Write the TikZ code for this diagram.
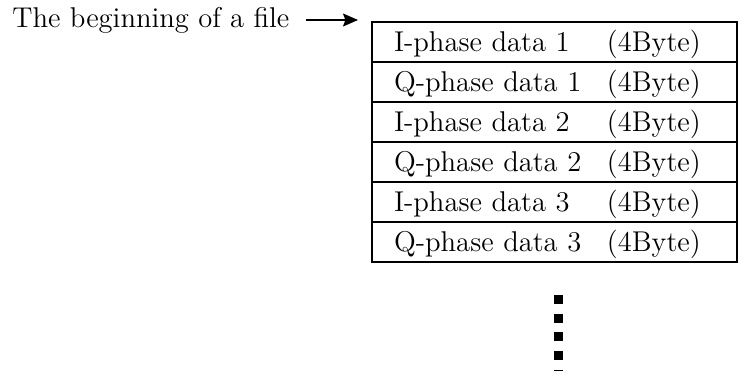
\documentclass[tikz,border=0pt]{standalone}
\usepackage{tikz}
\usetikzlibrary{arrows.meta,positioning}
\newcommand{\rowtext}[2]{\makebox[106.5pt][l]{#1}#2}

\begin{document}
\begin{tikzpicture}[
  x=0.5pt, y=-0.5pt,
  font=\fontsize{14.3pt}{17pt}\selectfont,
  record/.style={
    draw=black,
    line width=0.8pt,
    outer sep=0pt,
    minimum width=182.5pt,
    minimum height=20pt,
    text width=160.5pt,
    align=left,
    inner xsep=11pt,
    inner ysep=0pt,
    text height=9.8pt,
    text depth=0pt
  },
  caption/.style={
    inner sep=0pt,
    anchor=base west
  },
  pointer/.style={
    -{Stealth[length=7.5pt,width=6.5pt,inset=1.2pt]},
    line width=0.75pt,
    shorten <=8pt
  },
  ellipsis/.style={
    line width=4.5pt,
    dash pattern=on 4.5pt off 4.85pt
  }
]
\useasboundingbox (0,0) rectangle (738,374);

\node[record, anchor=north west] (iq1) at (372,22) {\rowtext{I-phase data 1}{(4Byte)}};
\node[record, below=0pt of iq1] (qq1) {\rowtext{Q-phase data 1}{(4Byte)}};
\node[record, below=0pt of qq1] (iq2) {\rowtext{I-phase data 2}{(4Byte)}};
\node[record, below=0pt of iq2] (qq2) {\rowtext{Q-phase data 2}{(4Byte)}};
\node[record, below=0pt of qq2] (iq3) {\rowtext{I-phase data 3}{(4Byte)}};
\node[record, below=0pt of iq3] (qq3) {\rowtext{Q-phase data 3}{(4Byte)}};

\node[caption] (start) at (12,28) {The beginning of a file};
\coordinate (head) at (358,20);
\draw[pointer] (start.east |- head) -- (head);

\coordinate (dotstop) at (558.5,295);
\coordinate (dotsend) at (558.5,371);
\draw[ellipsis] (dotstop) -- (dotsend);
\end{tikzpicture}
\end{document}
